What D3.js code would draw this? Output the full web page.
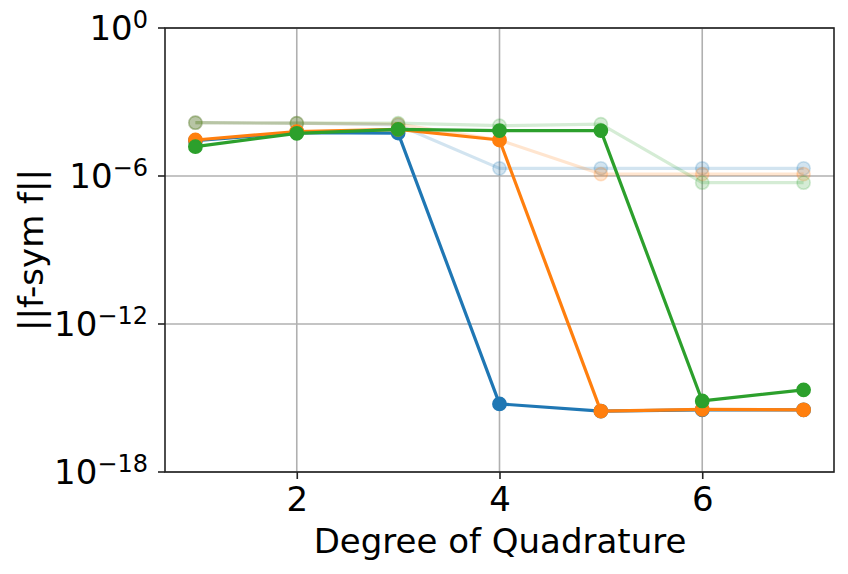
<!DOCTYPE html>
<html>
<head>
<meta charset="utf-8">
<script src="https://cdn.jsdelivr.net/npm/d3@7"></script>
<style>
  body { margin: 0; background: #fff; }
  text { font-family: "DejaVu Sans", sans-serif; fill: #000; }
</style>
</head>
<body>
<div id="chart"></div>
<script>
// degrees on x axis
const degrees = [1, 2, 3, 4, 5, 6, 7];
const yTickExps = [0, -6, -12, -18];
const xTicks = [2, 4, 6];

// solid series, values are log10 of ||f-sym f||
const blueExp = [-4.57, -4.24, -4.26, -15.24, -15.53, -15.48, -15.48];
const orangeExp = [-4.54, -4.2, -4.11, -4.54, -15.53, -15.46, -15.48];
const greenExp = [-4.81, -4.27, -4.11, -4.16, -4.16, -15.12, -14.67];

// faded series
const blueFadedExp = [-3.84, -3.86, -3.93, -5.69, -5.69, -5.69, -5.69];
const orangeFadedExp = [-3.84, -3.86, -3.9, -4.54, -5.92, -5.92, -5.92];
const greenFadedExp = [-3.84, -3.86, -3.86, -3.96, -3.9, -6.27, -6.27];

const colors = ["#1f77b4", "#ff7f0e", "#2ca02c"];

const W = 848, H = 574;
const margin = { top: 28, right: 14, bottom: 102, left: 165 };
const width = W - margin.left - margin.right;
const height = H - margin.top - margin.bottom;

const svg = d3.select("#chart").append("svg")
  .attr("width", W).attr("height", H);
const g = svg.append("g")
  .attr("transform", `translate(${margin.left},${margin.top})`);

const x = d3.scaleLinear().domain([0.7, 7.3]).range([0, width]);
const y = d3.scaleLog().domain([1e-18, 1]).range([height, 0]);

// grid
g.selectAll(".gx").data(xTicks).join("line")
  .attr("x1", d => x(d)).attr("x2", d => x(d))
  .attr("y1", 0).attr("y2", height)
  .attr("stroke", "#b0b0b0").attr("stroke-width", 1.6);
g.selectAll(".gy").data(yTickExps).join("line")
  .attr("x1", 0).attr("x2", width)
  .attr("y1", d => y(Math.pow(10, d))).attr("y2", d => y(Math.pow(10, d)))
  .attr("stroke", "#b0b0b0").attr("stroke-width", 1.6);

const line = d3.line()
  .x((d, i) => x(degrees[i]))
  .y(d => y(Math.pow(10, d)));

function drawSeries(vals, color, faded) {
  const op = faded ? 0.2 : 1;
  g.append("path").datum(vals)
    .attr("d", line)
    .attr("fill", "none")
    .attr("stroke", color)
    .attr("stroke-opacity", op)
    .attr("stroke-width", 3.2)
    .attr("stroke-linejoin", "round");
  g.append("g").selectAll("circle").data(vals).join("circle")
    .attr("cx", (d, i) => x(degrees[i]))
    .attr("cy", d => y(Math.pow(10, d)))
    .attr("r", 6.6)
    .attr("fill", color)
    .attr("fill-opacity", op)
    .attr("stroke", color)
    .attr("stroke-opacity", op)
    .attr("stroke-width", 1.6);
}

drawSeries(blueFadedExp, colors[0], true);
drawSeries(orangeFadedExp, colors[1], true);
drawSeries(greenFadedExp, colors[2], true);
drawSeries(blueExp, colors[0], false);
drawSeries(orangeExp, colors[1], false);
drawSeries(greenExp, colors[2], false);

// frame
g.append("rect")
  .attr("width", width).attr("height", height)
  .attr("fill", "none").attr("stroke", "#222").attr("stroke-width", 1.6);

// x axis
const xAxis = g.append("g")
  .attr("transform", `translate(0,${height})`)
  .call(d3.axisBottom(x).tickValues(xTicks).tickFormat(d3.format("d"))
    .tickSize(7).tickPadding(8));
xAxis.select(".domain").remove();
xAxis.selectAll("line").attr("stroke", "#222").attr("stroke-width", 1.6);
xAxis.selectAll("text").attr("font-size", 34).attr("font-family", "DejaVu Sans").attr("fill", "#000");

// y axis with superscript labels
const yAxis = g.append("g");
yAxis.selectAll("line").data(yTickExps).join("line")
  .attr("x1", -7).attr("x2", 0)
  .attr("y1", d => y(Math.pow(10, d))).attr("y2", d => y(Math.pow(10, d)))
  .attr("stroke", "#222").attr("stroke-width", 1.6);
yAxis.selectAll("text").data(yTickExps).join("text")
  .attr("x", -17)
  .attr("y", d => y(Math.pow(10, d)) + 12)
  .attr("text-anchor", "end")
  .attr("font-size", 34)
  .each(function (d) {
    const t = d3.select(this);
    t.append("tspan").text("10");
    t.append("tspan").attr("font-size", 24).attr("dy", -12)
      .text(d === 0 ? "0" : "\u2212" + Math.abs(d));
  });

// labels
svg.append("text")
  .attr("x", margin.left + x(4.005)).attr("y", 553)
  .attr("text-anchor", "middle").attr("font-size", 34)
  .text("Degree of Quadrature");
svg.append("text")
  .attr("transform", `translate(43,${margin.top + height / 2}) rotate(-90)`)
  .attr("text-anchor", "middle").attr("font-size", 34)
  .text("||f-sym f||");
</script>
</body>
</html>
